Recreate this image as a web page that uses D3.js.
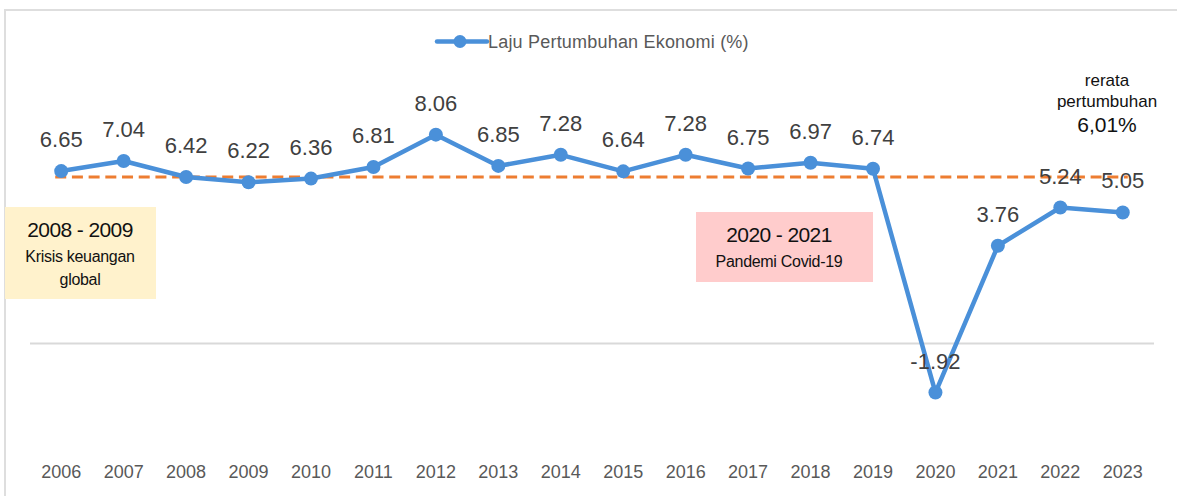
<!DOCTYPE html>
<html>
<head>
<meta charset="utf-8">
<script src="https://cdn.jsdelivr.net/npm/d3@7"></script>
<style>
  html, body { margin: 0; padding: 0; background: #fff; }
  svg { display: block; font-family: "Liberation Sans", Arial, sans-serif; }
</style>
</head>
<body>
<svg id="chart" width="1177" height="496"></svg>
<script>
"use strict";
// Laju pertumbuhan ekonomi 2006–2023, Excel-style line chart with labels + annotation boxes.

const years = ["2006", "2007", "2008", "2009", "2010", "2011", "2012", "2013", "2014",
  "2015", "2016", "2017", "2018", "2019", "2020", "2021", "2022", "2023"];
const growth = [6.65, 7.04, 6.42, 6.22, 6.36, 6.81, 8.06, 6.85, 7.28,
  6.64, 7.28, 6.75, 6.97, 6.74, -1.92, 3.76, 5.24, 5.05];
const seriesName = "Laju Pertumbuhan Ekonomi (%)";
const refLineValue = 6.42;           // where the dashed "rerata" line sits in the picture
const avgLines = ["rerata", "pertumbuhan", "6,01%"];
const boxes = [
  { title: "2008 - 2009", lines: ["Krisis keuangan", "global"], fill: "#fff2cc" },
  { title: "2020 - 2021", lines: ["Pandemi Covid-19"], fill: "#ffcccc" },
];

const W = 1177, H = 496;
const svg = d3.select("#chart");
const blue = "#4a90d9", orange = "#ed7d31";

const x = d3.scaleBand().domain(years).range([30, 1154]);
const cx = (yr) => x(yr) + x.bandwidth() / 2;
const y = d3.scaleLinear().domain([-2, 8]).range([394.6, 136.2]);

// outer frame (top + left edges visible)
svg.append("path").attr("d", `M5,${H} V10 H${W}`).attr("fill", "none")
  .attr("stroke", "#dedede").attr("stroke-width", 2);

// zero baseline
svg.append("line").attr("x1", 30).attr("x2", 1154).attr("y1", 343.5).attr("y2", 343.5)
  .attr("stroke", "#d9d9d9").attr("stroke-width", 2);

// annotation boxes
const boxG = svg.append("g");
const boxGeom = [{ x: 5, y: 207, w: 151, h: 92, cx: 80 }, { x: 696, y: 212, w: 177, h: 70, cx: 779 }];
boxes.forEach((b, i) => {
  const g = boxG.append("g");
  const r = boxGeom[i];
  g.append("rect").attr("x", r.x).attr("y", r.y).attr("width", r.w).attr("height", r.h).attr("fill", b.fill);
  g.append("text").attr("x", r.cx).attr("y", r.y + 30).attr("text-anchor", "middle")
    .attr("font-size", 21).attr("letter-spacing", -0.6).attr("fill", "#111").text(b.title);
  b.lines.forEach((t, j) => {
    g.append("text").attr("x", r.cx).attr("y", r.y + 55 + j * 23).attr("text-anchor", "middle")
      .attr("font-size", 16).attr("letter-spacing", -0.3).attr("fill", "#111").text(t);
  });
});

// dashed average line
svg.append("line")
  .attr("x1", cx(years[0]) - 6).attr("x2", cx(years[years.length - 1]) + 5)
  .attr("y1", y(refLineValue)).attr("y2", y(refLineValue))
  .attr("stroke", orange).attr("stroke-width", 3).attr("stroke-dasharray", "11 5.7");

// series line + markers
const line = d3.line().x((d, i) => cx(years[i])).y((d) => y(d));
svg.append("path").datum(growth).attr("d", line).attr("fill", "none")
  .attr("stroke", blue).attr("stroke-width", 4.5).attr("stroke-linejoin", "round");
svg.append("g").selectAll("circle").data(growth).enter().append("circle")
  .attr("cx", (d, i) => cx(years[i])).attr("cy", (d) => y(d)).attr("r", 7).attr("fill", blue);

// data labels
svg.append("g").selectAll("text").data(growth).enter().append("text")
  .attr("x", (d, i) => cx(years[i])).attr("y", (d) => y(d) - 24)
  .attr("text-anchor", "middle").attr("font-size", 22).attr("fill", "#404040")
  .text((d) => d.toFixed(2));

// category axis labels
svg.append("g").selectAll("text").data(years).enter().append("text")
  .attr("x", (d) => cx(d)).attr("y", 478).attr("text-anchor", "middle")
  .attr("font-size", 18).attr("fill", "#595959").text((d) => d);

// legend
const lg = svg.append("g");
lg.append("line").attr("x1", 437).attr("x2", 487).attr("y1", 41.5).attr("y2", 41.5)
  .attr("stroke", blue).attr("stroke-width", 4.5).attr("stroke-linecap", "round");
lg.append("circle").attr("cx", 460).attr("cy", 41.5).attr("r", 6.5).attr("fill", blue);
lg.append("text").attr("x", 488).attr("y", 48).attr("font-size", 18).attr("letter-spacing", 0.2)
  .attr("fill", "#595959").text(seriesName);

// average annotation, top right
avgLines.forEach((t, i) => {
  svg.append("text").attr("x", 1107).attr("y", [86, 107, 132][i]).attr("text-anchor", "middle")
    .attr("font-size", i === 2 ? 21 : 17).attr("fill", "#111").text(t);
});
</script>
</body>
</html>
